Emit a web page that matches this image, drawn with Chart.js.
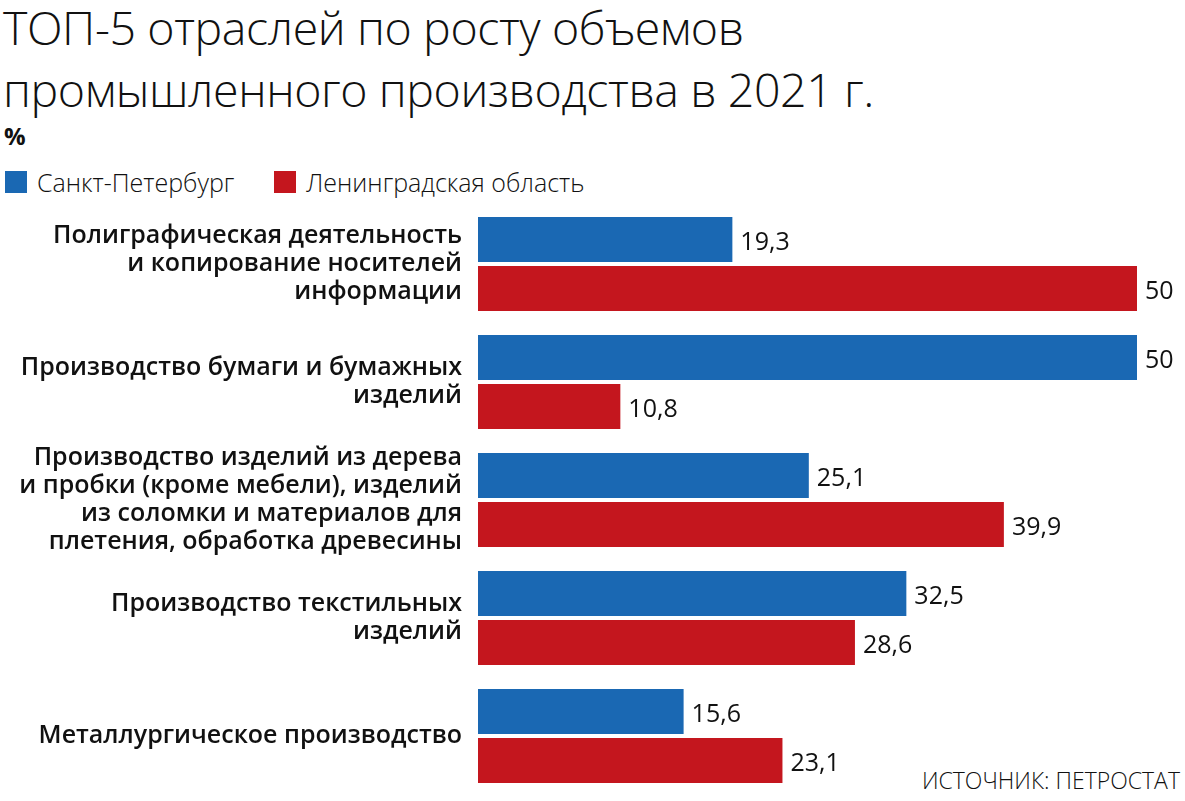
<!DOCTYPE html>
<html>
<head>
<meta charset="utf-8">
<script src="https://cdn.jsdelivr.net/npm/chart.js@4"></script>
<style>
body { margin: 0; background: #fff; font-family: "Open Sans", sans-serif; color: #111; }
#wrap { position: relative; width: 1185px; height: 801px; overflow: hidden; }
#title { position: absolute; left: 3px; top: -4px; font-size: 46.5px; font-weight: 300; line-height: 62px; letter-spacing: -0.4px; }
#unit { position: absolute; left: 4px; top: 119px; font-size: 24px; font-weight: 700; }
#legend { position: absolute; left: 5px; top: 165px; font-size: 25px; font-weight: 300; display: flex; }
#legend span.item { display: flex; align-items: center; margin-right: 40px; }
#legend span.box { width: 22px; height: 22px; margin-right: 10px; }
#source { position: absolute; right: 5px; top: 764px; font-size: 23px; font-weight: 300; }
#chartBox { position: absolute; left: 0; top: 200px; width: 1185px; height: 601px; }
</style>
</head>
<body>
<div id="wrap">
  <div id="title">ТОП-5 отраслей по росту объемов<br>промышленного производства в 2021 г.</div>
  <div id="unit">%</div>
  <div id="legend"></div>
  <div id="source">ИСТОЧНИК: ПЕТРОСТАТ</div>
  <div id="chartBox"><canvas id="barChart"></canvas></div>
</div>
<script>
var categories = [
    ['Полиграфическая деятельность', 'и копирование носителей', 'информации'],
    ['Производство бумаги и бумажных', 'изделий'],
    ['Производство изделий из дерева', 'и пробки (кроме мебели), изделий', 'из соломки и материалов для', 'плетения, обработка древесины'],
    ['Производство текстильных', 'изделий'],
    ['Металлургическое производство']
];
var spbValues = [19.3, 50, 25.1, 32.5, 15.6];
var lenValues = [50, 10.8, 39.9, 28.6, 23.1];
var seriesNames = ['Санкт-Петербург', 'Ленинградская область'];
var seriesColors = ['#1a68b3', '#c4161e'];

// legend in html
var legend = document.getElementById('legend');
seriesNames.forEach(function (name, i) {
    legend.innerHTML += '<span class="item"><span class="box" style="background:' + seriesColors[i] + '"></span>' + name + '</span>';
});

// value labels after bars
var valueLabels = {
    id: 'valueLabels',
    afterDatasetsDraw: function (chart) {
        var ctx = chart.ctx;
        ctx.save();
        ctx.font = '25px "Open Sans"';
        ctx.fillStyle = '#111';
        ctx.textBaseline = 'middle';
        ctx.textAlign = 'left';
        chart.data.datasets.forEach(function (ds, i) {
            chart.getDatasetMeta(i).data.forEach(function (bar, j) {
                ctx.fillText(String(ds.data[j]).replace('.', ','), bar.x + 8, bar.y + 3);
            });
        });
        ctx.restore();
    }
};

var ctxBarChart = document.getElementById('barChart').getContext('2d');
var barChart = new Chart(ctxBarChart, {
    type: 'bar',
    data: {
        labels: categories,
        datasets: [{
            label: seriesNames[0],
            backgroundColor: seriesColors[0],
            data: spbValues,
            categoryPercentage: 0.83,
            barPercentage: 0.92
        }, {
            label: seriesNames[1],
            backgroundColor: seriesColors[1],
            data: lenValues,
            categoryPercentage: 0.83,
            barPercentage: 0.92
        }]
    },
    options: {
        indexAxis: 'y',
        responsive: true,
        maintainAspectRatio: false,
        animation: false,
        layout: { padding: { top: 5, bottom: 6, right: 48, left: 0 } },
        plugins: {
            legend: { display: false },
            tooltip: { enabled: false }
        },
        scales: {
            x: { display: false, min: 0, max: 50 },
            y: {
                grid: { display: false },
                border: { display: false },
                ticks: {
                    color: '#111',
                    padding: 8,
                    font: { family: 'Open Sans', size: 25, weight: '600', lineHeight: 1.12 }
                },
                afterFit: function (scale) {
                    scale.width = 478;
                    scale.paddingTop = 0;
                    scale.paddingBottom = 0;
                }
            }
        }
    },
    plugins: [valueLabels]
});
</script>
</body>
</html>
